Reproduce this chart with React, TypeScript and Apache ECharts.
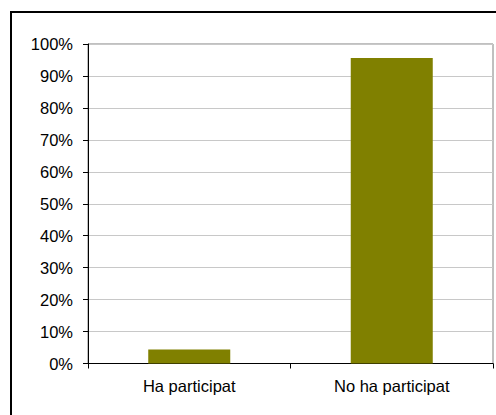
import React, { useEffect, useRef } from "react";
import * as echarts from "echarts";

const categories: string[] = ["Ha participat", "No ha participat"];
const values: number[] = [4.4, 95.6];
const yTicks = { min: 0, max: 100, interval: 10 };

export default function App() {
  const ref = useRef<HTMLDivElement | null>(null);
  useEffect(() => {
    if (!ref.current) return;
    const chart = echarts.init(ref.current, null, { renderer: "svg" });
    const font = "'Liberation Sans', Arial, sans-serif";
    chart.setOption({
      animation: false,
      backgroundColor: "#ffffff",
      graphic: [
        {
          type: "rect",
          shape: { x: 11, y: 12, width: 520, height: 440 },
          style: { fill: "none", stroke: "#000000", lineWidth: 2 },
          silent: true,
        },
      ],
      grid: {
        left: 88,
        top: 44,
        right: 3,
        bottom: 51.5,
        show: true,
        borderColor: "#808080",
        borderWidth: 1,
        backgroundColor: "transparent",
      },
      xAxis: {
        type: "category",
        data: categories,
        boundaryGap: true,
        axisLine: { show: true, lineStyle: { color: "#000000", width: 1 } },
        axisTick: { show: true, inside: false, length: 5, alignWithLabel: false, lineStyle: { color: "#000000" } },
        axisLabel: { color: "#000000", fontSize: 16.5, fontFamily: font, margin: 14 },
        splitLine: { show: false },
      },
      yAxis: {
        type: "value",
        min: yTicks.min,
        max: yTicks.max,
        interval: yTicks.interval,
        axisLine: { show: true, lineStyle: { color: "#000000", width: 1 } },
        axisTick: { show: true, inside: false, length: 5, lineStyle: { color: "#000000" } },
        axisLabel: {
          color: "#000000",
          fontSize: 16.5,
          fontFamily: font,
          margin: 15,
          formatter: (v: number) => `${v}%`,
        },
        splitLine: { show: true, lineStyle: { color: "#c8c8c8", width: 1 } },
      },
      series: [
        {
          type: "bar",
          data: values,
          barWidth: "40.5%",
          itemStyle: { color: "#808000" },
        },
      ],
    });
    return () => chart.dispose();
  }, []);
  return (
    <div
      ref={ref}
      style={{ position: "fixed", left: 0, top: 0, width: 496, height: 415 }}
    />
  );
}
